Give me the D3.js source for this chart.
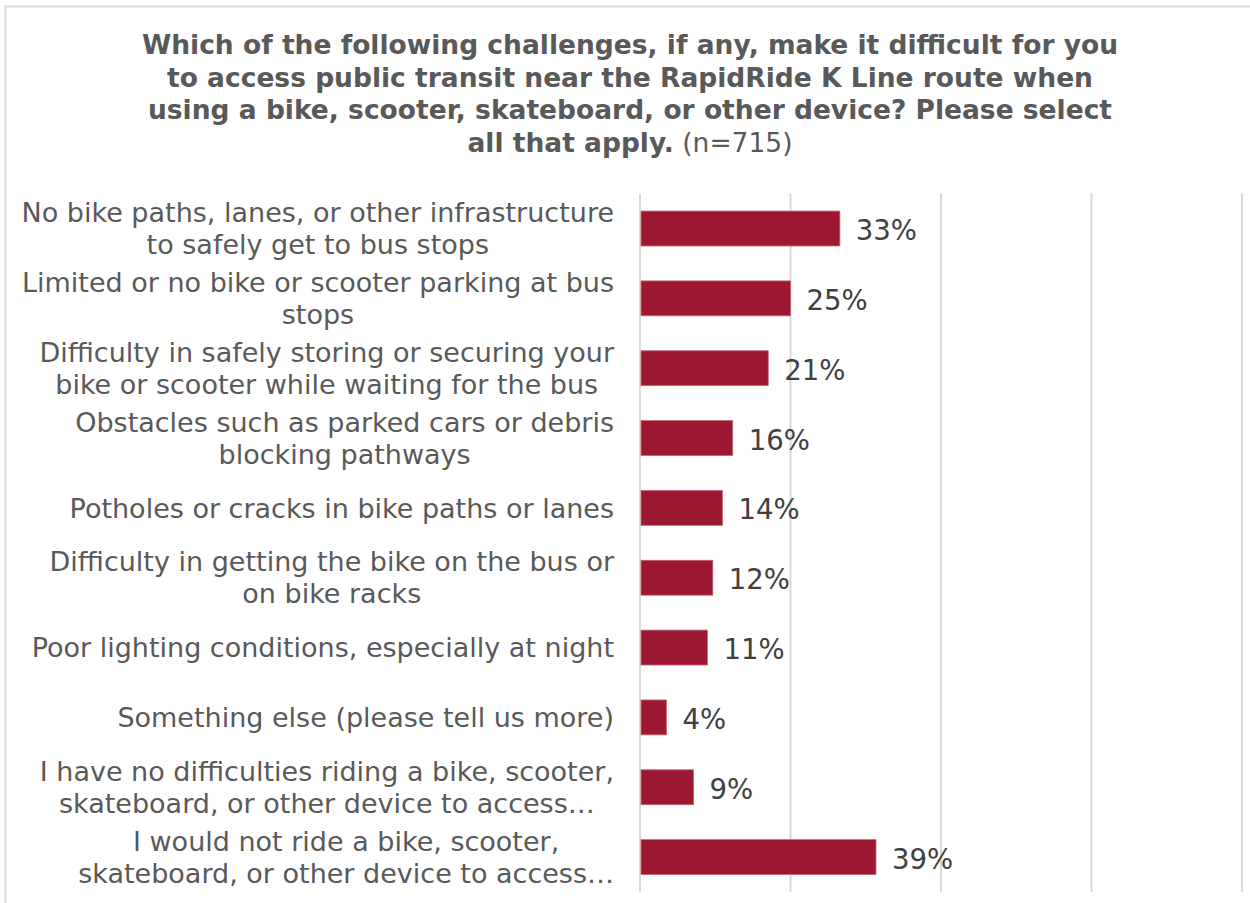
<!DOCTYPE html>
<html>
<head>
<meta charset="utf-8">
<script src="https://cdn.jsdelivr.net/npm/d3@7"></script>
<style>
  html, body { margin: 0; padding: 0; background: #ffffff; }
  svg { display: block; }
</style>
</head>
<body>
<svg id="chart" width="1250" height="903"></svg>
<script>
// ---- data ----
const titleLines = [
  "Which of the following challenges, if any, make it difficult for you",
  "to access public transit near the RapidRide K Line route when",
  "using a bike, scooter, skateboard, or other device? Please select",
  "all that apply."
];
const titleNote = " (n=715)";

const categories = [
  ["No bike paths, lanes, or other infrastructure", "to safely get to bus stops"],
  ["Limited or no bike or scooter parking at bus", "stops"],
  ["Difficulty in safely storing or securing your", "bike or scooter while waiting for the bus"],
  ["Obstacles such as parked cars or debris", "blocking pathways"],
  ["Potholes or cracks in bike paths or lanes"],
  ["Difficulty in getting the bike on the bus or", "on bike racks"],
  ["Poor lighting conditions, especially at night"],
  ["Something else (please tell us more)"],
  ["I have no difficulties riding a bike, scooter,", "skateboard, or other device to access…"],
  ["I would not ride a bike, scooter,", "skateboard, or other device to access…"]
];
// bar lengths (percent)
const values = [33.2, 25.0, 21.3, 15.4, 13.7, 12.1, 11.2, 4.4, 8.9, 39.2];
// data labels as printed on the chart
const valueLabels = ["33%", "25%", "21%", "16%", "14%", "12%", "11%", "4%", "9%", "39%"];
const xTicks = [0, 25, 50, 75, 100];

// ---- layout ----
const svg = d3.select("#chart");
const font = "'DejaVu Sans', Verdana, sans-serif";
const plot = { left: 640, right: 1242, top: 193.6, bottom: 892 };
const labelRight = 614;

// frame
svg.append("rect")
  .attr("x", 5.5).attr("y", 6.5)
  .attr("width", 1300).attr("height", 1000)
  .attr("fill", "none").attr("stroke", "#d9d9d9").attr("stroke-width", 2);

const x = d3.scaleLinear().domain([0, 100]).range([plot.left, plot.right]);
const keys = categories.map((c, i) => i);
const y = d3.scaleBand().domain(keys).range([plot.top, plot.bottom])
  .paddingInner(0.5).paddingOuter(0.25);

// title
const title = svg.append("text")
  .attr("x", 630).attr("y", 54)
  .attr("text-anchor", "middle")
  .attr("font-family", font).attr("font-size", 26.5)
  .attr("fill", "#595959");
titleLines.forEach((t, i) => {
  title.append("tspan").attr("x", 630).attr("dy", i === 0 ? 0 : 32.5)
    .attr("font-weight", "bold").text(t);
  if (i === titleLines.length - 1) {
    title.append("tspan").attr("font-weight", "normal").text(titleNote);
  }
});

// gridlines
svg.append("g").selectAll("line").data(xTicks).join("line")
  .attr("x1", d => x(d)).attr("x2", d => x(d))
  .attr("y1", plot.top).attr("y2", plot.bottom)
  .attr("stroke", "#d9d9d9").attr("stroke-width", 2);

// bars
svg.append("g").selectAll("rect").data(values).join("rect")
  .attr("x", x(0) + 1)
  .attr("y", (d, i) => y(i))
  .attr("width", d => x(d) - x(0) - 1)
  .attr("height", y.bandwidth())
  .attr("fill", "#9b1830")
  .attr("stroke", "#c9677a").attr("stroke-width", 0.8);

// value labels
svg.append("g").selectAll("text").data(values).join("text")
  .attr("x", d => x(d) + 16)
  .attr("y", (d, i) => y(i) + y.bandwidth() / 2)
  .attr("dy", "0.42em")
  .attr("font-family", font).attr("font-size", 27.5)
  .attr("fill", "#404040")
  .text((d, i) => valueLabels[i]);

// category labels (centered block, right edge at labelRight)
const lg = svg.append("g");
categories.forEach((lines, i) => {
  const cy = y(i) + y.bandwidth() / 2;
  const g = lg.append("g");
  const texts = lines.map((t, j) => g.append("text")
    .attr("font-family", font).attr("font-size", 27)
    .attr("fill", "#595959")
    .attr("text-anchor", "middle")
    .attr("y", cy + (j - (lines.length - 1) / 2) * 32)
    .attr("dy", "0.36em")
    .text(t));
  const maxW = d3.max(texts, t => t.node().getComputedTextLength());
  texts.forEach(t => t.attr("x", labelRight - maxW / 2));
});
</script>
</body>
</html>
